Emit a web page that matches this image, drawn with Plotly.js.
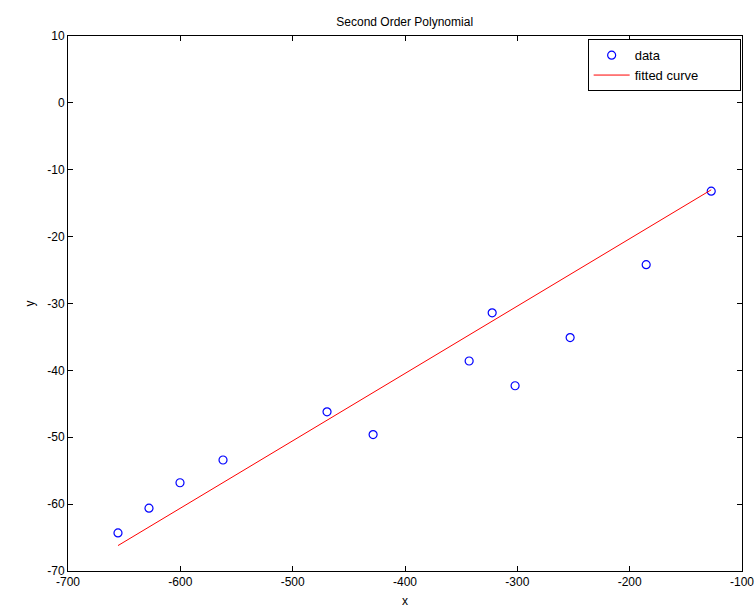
<!DOCTYPE html>
<html>
<head>
<meta charset="utf-8">
<script src="https://cdn.plot.ly/plotly-3.0.1.min.js"></script>
<style>html,body{margin:0;padding:0;background:#fff;}#chart{width:755px;height:613px;}</style>
</head>
<body>
<div id="chart"></div>
<script>
var dataX = [-655.5, -627.9, -600.3, -562.0, -469.4, -428.4, -342.9, -322.4, -302.0, -253.0, -185.3, -127.4];
var dataY = [-64.3, -60.6, -56.8, -53.4, -46.2, -49.6, -38.6, -31.4, -42.3, -35.1, -24.2, -13.2];
var fitX = [-655.5, -400.0, -127.4];
var fitY = [-66.2, -40.5, -13.0];
var xTicks = [-700, -600, -500, -400, -300, -200, -100];
var yTicks = [10, 0, -10, -20, -30, -40, -50, -60, -70];
var seriesNames = ['data', 'fitted curve'];

var font = {family: 'Liberation Sans, Arial, sans-serif', size: 12, color: '#000'};
var legFont = {family: 'Liberation Sans, Arial, sans-serif', size: 13, color: '#000'};
var pad = '\u00a0'.repeat(10);

var traces = [
  {x: dataX, y: dataY, mode: 'markers', type: 'scatter', name: seriesNames[0],
   marker: {symbol: 'circle-open', size: 8, color: '#0000ff', line: {width: 1.2, color: '#0000ff'}}},
  {x: fitX, y: fitY, mode: 'lines', type: 'scatter', name: seriesNames[1] + pad,
   line: {color: '#ff0000', width: 1}}
];

var axisCommon = {
  showgrid: false, zeroline: false, showline: true, mirror: 'ticks',
  linecolor: '#000', linewidth: 1, ticks: 'inside', ticklen: 5, tickcolor: '#000',
  tickfont: font
};

var layout = {
  width: 755, height: 613,
  margin: {l: 68, r: 13, t: 36, b: 42},
  paper_bgcolor: '#fff', plot_bgcolor: '#fff',
  font: font,
  title: {text: 'Second Order Polynomial', font: font, x: 0.536, xanchor: 'center', y: 0.965, yanchor: 'middle'},
  showlegend: true,
  legend: {x: 0.998, y: 0.994, xanchor: 'right', yanchor: 'top', bordercolor: '#000', borderwidth: 1,
           bgcolor: '#fff', font: legFont, tracegroupgap: 0, itemwidth: 36},
  xaxis: Object.assign({}, axisCommon, {range: [-700, -100], tickvals: xTicks, ticktext: xTicks.map(String),
           title: {text: 'x', font: font, standoff: 8}}),
  yaxis: Object.assign({}, axisCommon, {range: [-70, 10], tickvals: yTicks, ticktext: yTicks.map(String),
           title: {text: 'y', font: font, standoff: 10}})
};

Plotly.newPlot('chart', traces, layout, {displayModeBar: false, staticPlot: true});
</script>
</body>
</html>
